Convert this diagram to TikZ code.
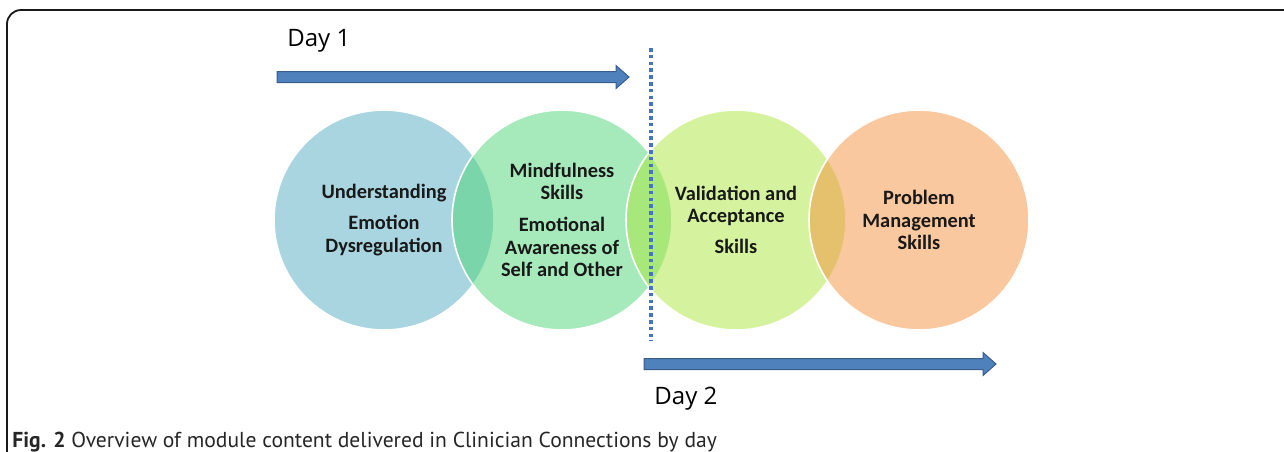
\documentclass[tikz,border=0pt]{standalone}
\usepackage{fontspec}
\setmainfont{Carlito}
\newfontfamily\dayfont{Open Sans}
\newfontfamily\capfont{PT Sans}
\usetikzlibrary{positioning}
\definecolor{modblue}{RGB}{83,171,195}
\definecolor{modgreen}{RGB}{77,213,119}
\definecolor{modyellow}{RGB}{171,231,61}
\definecolor{modorange}{RGB}{245,145,61}
\definecolor{arrowfill}{RGB}{79,129,189}
\definecolor{arrowline}{RGB}{56,93,138}
\definecolor{dotblue}{RGB}{68,114,196}
\newcommand{\modfont}{\fontsize{10.2pt}{11.3pt}\selectfont\bfseries}
\newcommand{\dayfontsize}{\dayfont\fontsize{12pt}{14pt}\selectfont}
% arrow shape: start x, tip x, y
\newcommand{\dayarrow}[3]{%
\filldraw[arrowbody] (#1,#3-5.5) -- (#2-13,#3-5.5) -- (#2-13,#3-11.5) -- (#2,#3)
  -- (#2-13,#3+11.5) -- (#2-13,#3+5.5) -- (#1,#3+5.5) -- cycle;}

\begin{document}
\begin{tikzpicture}[x=0.5pt,y=-0.5pt,
  module/.style={circle,minimum size=110pt,inner sep=0pt,draw=white,line width=0.8pt,
    fill opacity=0.5,text opacity=1,align=center,font=\modfont,text=black!90},
  arrowbody/.style={fill=arrowfill,draw=arrowline,line width=0.5pt},
  daysplit/.style={dotblue,line width=2pt,dash pattern=on 1.8pt off 1.6pt}]
\useasboundingbox (0,0) rectangle (1284,451);
%frame
\draw[line width=0.9pt,black!90,rounded corners=7pt] (7,452) -- (7,10) -- (1286,10);
%draw circles
\node[module,fill=modblue] (under) at (384,220) {Understanding\\[4.2pt] Emotion\\ Dysregulation};
\node[module,fill=modgreen] (mindful) at (562,220) {Mindfulness\\ Skills\\[4.7pt] Emotional\\ Awareness of\\ Self and Other};
\node[module,fill=modyellow] (valid) at (736,220) {Validation and\\ Acceptance\\[4.2pt] Skills};
\node[module,fill=modorange] (problem) at (919,220) {Problem\\ Management\\ Skills};
%day split
\coordinate (splittop) at (651,48);
\coordinate (splitbot) at (651,341);
\draw[daysplit] (splittop) -- (splitbot);
%draw arrows
\dayarrow{277}{629}{77}
\dayarrow{644}{996}{364}
\node[anchor=base west,font=\dayfontsize,inner sep=0pt] (dayone) at (287,46) {Day 1};
\node[anchor=base west,font=\dayfontsize,inner sep=0pt] (daytwo) at (654,404) {Day 2};
%caption
\node[anchor=base west,font=\capfont\fontsize{10.8pt}{12pt}\selectfont,inner sep=0pt,text=black!85] (caption) at (12,447)
  {\textbf{Fig. 2} Overview of module content delivered in Clinician Connections by day};
\end{tikzpicture}
\end{document}
